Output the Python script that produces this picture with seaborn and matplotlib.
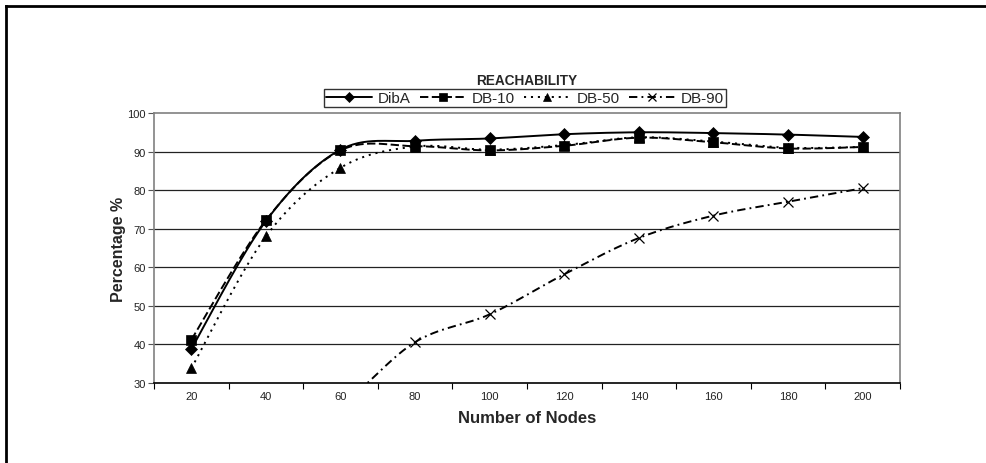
import numpy as np
import pandas as pd
import matplotlib
matplotlib.use("Agg")
import matplotlib.pyplot as plt
from matplotlib.lines import Line2D
import seaborn as sns

nodes = [20, 40, 60, 80, 100, 120, 140, 160, 180, 200]
diba = [38.8, 72.0, 90.5, 92.8, 93.4, 94.5, 95.0, 94.8, 94.4, 93.8]
db10 = [41.2, 72.2, 90.3, 91.4, 90.3, 91.5, 93.6, 92.4, 90.8, 91.2]
db50 = [33.8, 68.0, 85.8, 91.3, 90.5, 91.7, 93.7, 92.6, 91.0, 91.2]
db90 = [5.0, 13.0, 24.0, 40.6, 47.8, 58.2, 67.6, 73.4, 77.0, 80.5]
series_names = ["DibA", "DB-10", "DB-50", "DB-90"]
yticks = [30, 40, 50, 60, 70, 80, 90, 100]

sns.set_theme(style="white")
plt.rcParams["font.family"] = ["Liberation Sans", "DejaVu Sans"]
plt.rcParams["lines.scale_dashes"] = False

fig = plt.figure(figsize=(9.87, 4.64), dpi=100)
ax = fig.add_axes([154/987, 1-384/464, (900-154)/987, (384-114)/464])

# pixel scales for Excel-like smoothing
XPX = (900-154)/10.0
YPX = (384-114)/70.0

def smooth(xs, ys, n=30):
    P = np.column_stack([np.asarray(xs, float)*XPX, np.asarray(ys, float)*YPX])
    P = np.vstack([P[0], P, P[-1]])
    out = []
    for i in range(1, len(P)-2):
        p0, p1, p2, p3 = P[i-1], P[i], P[i+1], P[i+2]
        t = np.linspace(0, 1, n, endpoint=(i == len(P)-3))[:, None]
        c1 = p1 + (p2 - p0)/6.0
        c2 = p2 - (p3 - p1)/6.0
        seg = ((1-t)**3)*p1 + 3*((1-t)**2)*t*c1 + 3*(1-t)*t**2*c2 + t**3*p2
        out.append(seg)
    S = np.vstack(out)
    return S[:, 0]/XPX, S[:, 1]/YPX

idx = np.arange(len(nodes))
data = {"DibA": diba, "DB-10": db10, "DB-50": db50, "DB-90": db90}
styles = {
    "DibA": dict(ls="-", marker="D", ms=6),
    "DB-10": dict(ls=(0, (6, 2.5)), marker="s", ms=7.5),
    "DB-50": dict(ls=(0, (1.5, 3.5)), marker="^", ms=7.5),
    "DB-90": dict(ls=(0, (6, 3, 1.3, 3)), marker="x", ms=7),
}

for name in series_names:
    vals = data[name]
    sx, sy = smooth(idx, vals)
    dfc = pd.DataFrame({"x": sx, "y": sy})
    sns.lineplot(data=dfc, x="x", y="y", ax=ax, color="black", lw=1.4,
                 linestyle=styles[name]["ls"], sort=False, estimator=None)
    dfp = pd.DataFrame({"x": idx, "y": vals})
    mk = styles[name]["marker"]
    if mk == "x":
        ax.plot(dfp["x"], dfp["y"], ls="none", marker="x", ms=styles[name]["ms"],
                mec="black", mew=0.9, zorder=4)
    else:
        ax.plot(dfp["x"], dfp["y"], ls="none", marker=mk, ms=styles[name]["ms"],
                mfc="black", mec="black", mew=0.5, zorder=4)

ax.set_xlim(-0.5, 9.5)
ax.set_ylim(30, 100)
ax.set_yticks(yticks)
ax.set_yticklabels([str(v) for v in yticks], fontsize=8, color="#222222")
ax.set_xticks(idx)
ax.set_xticklabels([str(v) for v in nodes], fontsize=8, color="#222222")
ax.set_xticks(np.arange(-0.5, 10, 1), minor=True)
ax.tick_params(axis="x", which="major", length=0, pad=6)
ax.tick_params(axis="x", which="minor", length=4, width=0.8, color="black", direction="out", bottom=True)
ax.tick_params(axis="y", which="major", length=4, width=0.8, color="#555555", direction="out", left=True, pad=2)

for v in [40, 50, 60, 70, 80, 90]:
    ax.axhline(v, color="#222222", lw=0.9, zorder=1)

for s in ["top", "right", "left"]:
    ax.spines[s].set_visible(True)
    ax.spines[s].set_color("#808080")
    ax.spines[s].set_linewidth(1.2)
ax.spines["bottom"].set_color("black")
ax.spines["bottom"].set_linewidth(1.2)

ax.set_xlabel("Number of Nodes", fontsize=12, fontweight="bold", labelpad=6)
ax.set_ylabel("Percentage %", fontsize=11.5, fontweight="bold", labelpad=1)

fig.text((154+900)/2/987, 1-81/464, "REACHABILITY", ha="center", va="center",
         fontsize=9.8, fontweight="bold")

handles = [Line2D([0], [0], color="black", lw=1.4, linestyle=styles[n]["ls"],
                  marker=styles[n]["marker"], ms=styles[n]["ms"]*0.85,
                  mfc="black", mec="black", mew=0.9 if styles[n]["marker"] == "x" else 0.5)
           for n in series_names]
leg = fig.legend(handles, series_names, loc="center", bbox_to_anchor=(525/987, 1-99/464),
                 ncol=4, fontsize=11, frameon=True, fancybox=False, handlelength=3.0,
                 handletextpad=0.4, columnspacing=0.6, borderpad=0.15, borderaxespad=0)
leg.get_frame().set_edgecolor("black")
leg.get_frame().set_linewidth(1.0)

# outer chart-area border (only left and top edges fall inside the picture)
fig.add_artist(Line2D([6/987, 6/987], [0, 1-7/464], transform=fig.transFigure,
                      color="black", lw=2.0, solid_capstyle="projecting"))
fig.add_artist(Line2D([6/987, 1], [1-7/464, 1-7/464], transform=fig.transFigure,
                      color="black", lw=2.0, solid_capstyle="projecting"))

fig.savefig("out.png", dpi=100)
